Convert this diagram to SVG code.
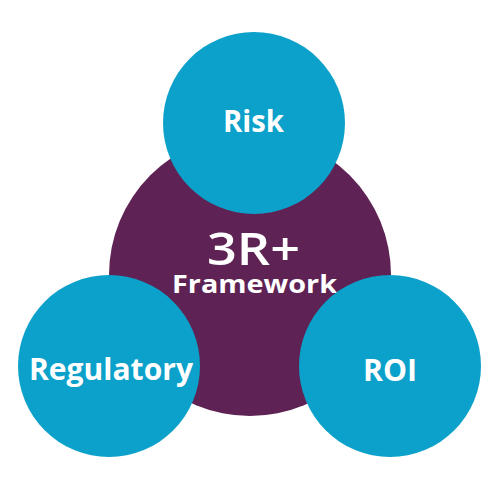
<svg xmlns="http://www.w3.org/2000/svg" width="500" height="490" viewBox="0 0 500 490">
<style>
.blue{fill:#0CA1CA}
.purple{fill:#5E2354}
.lbl{fill:#FFFFFF;font-family:"Open Sans","Liberation Sans",sans-serif;font-weight:700;text-anchor:middle}
</style>
<rect width="500" height="490" fill="#FFFFFF"/>
<g id="connectors"></g>
<g id="framework">
<circle class="purple" cx="250" cy="275" r="141"/>
<text class="lbl" x="253.5" y="265" font-size="46" style="font-weight:600" textLength="93" lengthAdjust="spacingAndGlyphs">3R+</text>
<text class="lbl" x="254.5" y="293" font-size="25" textLength="165" lengthAdjust="spacingAndGlyphs">Framework</text>
</g>
<g id="risk">
<circle class="blue" cx="254" cy="123" r="91"/>
<text class="lbl" x="253.5" y="132" font-size="31" textLength="61" lengthAdjust="spacingAndGlyphs">Risk</text>
</g>
<g id="regulatory">
<circle class="blue" cx="109" cy="366" r="91"/>
<text class="lbl" x="111" y="380" font-size="30" textLength="164" lengthAdjust="spacingAndGlyphs">Regulatory</text>
</g>
<g id="roi">
<circle class="blue" cx="390" cy="366" r="91"/>
<text class="lbl" x="390" y="381" font-size="31" textLength="54" lengthAdjust="spacingAndGlyphs">ROI</text>
</g>
</svg>
